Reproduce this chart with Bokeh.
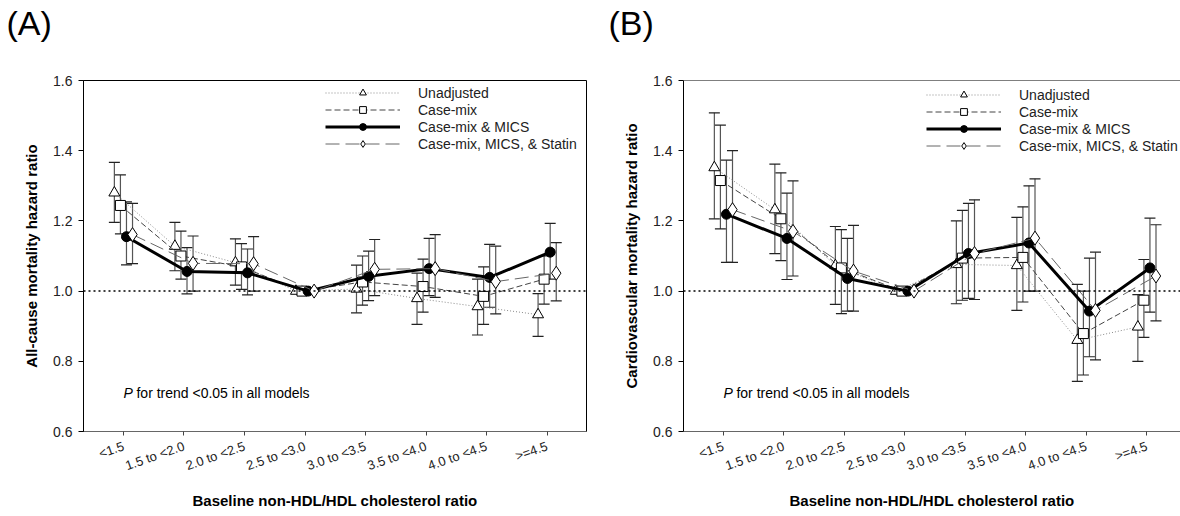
from bokeh.plotting import figure
from bokeh.models import (ColumnDataSource, Whisker, TeeHead, Span, Label, Legend,
                          LegendItem, Range1d, FixedTicker, Title)
from bokeh.layouts import row
from bokeh.embed import file_html
from bokeh.resources import INLINE

categories = ["<1.5", "1.5 to <2.0", "2.0 to <2.5", "2.5 to <3.0",
              "3.0 to <3.5", "3.5 to <4.0", "4.0 to <4.5", ">=4.5"]
series_names = ["Unadjusted", "Case-mix", "Case-mix & MICS", "Case-mix, MICS, & Statin"]
y_ticks = [0.6, 0.8, 1.0, 1.2, 1.4, 1.6]

# Panel A: all-cause mortality
a_unadj_hr = [1.280, 1.128, 1.081, 1.0, 1.006, 0.979, 0.956, 0.933]
a_unadj_lo = [1.196, 1.058, 1.017, 1.0, 0.938, 0.905, 0.875, 0.871]
a_unadj_hi = [1.367, 1.196, 1.149, 1.0, 1.074, 1.051, 1.034, 0.993]
a_cm_hr = [1.244, 1.100, 1.069, 1.0, 1.026, 1.013, 0.985, 1.034]
a_cm_lo = [1.163, 1.034, 1.005, 1.0, 0.960, 0.940, 0.905, 0.963]
a_cm_hi = [1.331, 1.171, 1.135, 1.0, 1.100, 1.091, 1.069, 1.100]
a_mics_hr = [1.155, 1.056, 1.052, 1.0, 1.042, 1.064, 1.039, 1.111]
a_mics_lo = [1.075, 0.992, 0.989, 1.0, 0.973, 0.987, 0.954, 1.034]
a_mics_hi = [1.254, 1.124, 1.120, 1.0, 1.114, 1.150, 1.133, 1.193]
a_statin_hr = [1.161, 1.079, 1.078, 1.0, 1.062, 1.064, 1.027, 1.051]
a_statin_lo = [1.078, 1.000, 1.000, 1.0, 0.987, 0.982, 0.935, 0.972]
a_statin_hi = [1.250, 1.157, 1.155, 1.0, 1.147, 1.161, 1.128, 1.138]

# Panel B: cardiovascular mortality
b_unadj_hr = [1.352, 1.232, 1.073, 1.0, 1.076, 1.073, 0.860, 0.898]
b_unadj_lo = [1.206, 1.107, 0.962, 1.0, 0.964, 0.945, 0.743, 0.800]
b_unadj_hi = [1.508, 1.362, 1.184, 1.0, 1.200, 1.210, 1.019, 0.990]
b_cm_hr = [1.315, 1.206, 1.066, 1.0, 1.094, 1.096, 0.879, 0.974]
b_cm_lo = [1.177, 1.087, 0.936, 1.0, 0.974, 0.969, 0.761, 0.868]
b_cm_hi = [1.473, 1.337, 1.175, 1.0, 1.230, 1.240, 1.000, 1.090]
b_mics_hr = [1.219, 1.150, 1.036, 1.0, 1.107, 1.137, 0.943, 1.066]
b_mics_lo = [1.082, 1.033, 0.943, 1.0, 0.979, 1.000, 0.813, 0.940]
b_mics_hi = [1.373, 1.279, 1.150, 1.0, 1.250, 1.300, 1.094, 1.208]
b_statin_hr = [1.232, 1.170, 1.057, 1.0, 1.107, 1.151, 0.945, 1.043]
b_statin_lo = [1.082, 1.043, 0.943, 1.0, 0.976, 1.000, 0.804, 0.915]
b_statin_hi = [1.400, 1.314, 1.187, 1.0, 1.260, 1.320, 1.111, 1.189]

FONT = "Liberation Sans"
offsets = [-0.15, -0.05, 0.05, 0.15]
styles = [
    dict(line_color="#8a8a8a", line_width=1, line_dash="1 2", marker="triangle", size=11, fill="white"),
    dict(line_color="#444444", line_width=1, line_dash="6 3", marker="square", size=10, fill="white"),
    dict(line_color="black", line_width=3, line_dash="solid", marker="circle", size=10, fill="black"),
    dict(line_color="#666666", line_width=1, line_dash="14 6", marker="diamond", size=14, fill="white"),
]


def make_panel(letter, ylabel, data, width, x_end, bl, br, bt, bb, outline, legend_loc, t_off):
    p = figure(width=width, height=516, output_backend="svg", toolbar_location=None,
               x_range=Range1d(-0.66, x_end), y_range=Range1d(0.6, 1.6),
               min_border_left=bl, min_border_right=br, min_border_top=bt, min_border_bottom=bb)
    p.title = Title(text=f"({letter})\n ", align="left", offset=t_off, standoff=2,
                    vertical_align="top", text_line_height=0.96,
                    text_font=FONT, text_font_size="34px", text_font_style="normal",
                    text_color="black")
    p.background_fill_color = "white"
    p.border_fill_color = "white"
    p.xgrid.visible = False
    p.ygrid.visible = False
    p.outline_line_color = "black" if outline else None
    p.outline_line_width = 1

    p.xaxis.ticker = FixedTicker(ticks=list(range(len(categories))))
    p.xaxis.major_label_overrides = {i: c for i, c in enumerate(categories)}
    p.xaxis.major_label_orientation = 0.34
    p.xaxis.major_tick_in = 0
    p.xaxis.major_tick_out = 4
    p.xaxis.minor_tick_line_color = None
    p.xaxis.axis_line_color = "#666666"
    p.xaxis.major_tick_line_color = "#444444"
    p.xaxis.major_label_standoff = 10
    p.xaxis.axis_label = "Baseline non-HDL/HDL cholesterol ratio"
    p.xaxis.axis_label_standoff = 9
    p.xaxis.major_label_text_font_size = "13px"

    p.yaxis.ticker = FixedTicker(ticks=y_ticks)
    p.yaxis.major_label_overrides = {t: f"{t:.1f}" for t in y_ticks}
    p.yaxis.major_tick_in = 0
    p.yaxis.major_tick_out = 5
    p.yaxis.minor_tick_line_color = None
    p.yaxis.axis_line_color = "black"
    p.yaxis.major_label_standoff = 6
    p.yaxis.axis_label = ylabel
    p.yaxis.axis_label_standoff = 10
    p.yaxis.major_label_text_font_size = "14px"

    for ax in (p.xaxis, p.yaxis):
        ax.major_label_text_font = FONT
        ax.major_label_text_color = "#222222"
        ax.axis_label_text_font = FONT
        ax.axis_label_text_font_size = "15px"
        ax.axis_label_text_font_style = "bold"
        ax.axis_label_text_color = "black"

    if not outline:
        p.add_layout(Span(location=1.6, dimension="width", line_color="black", line_width=1))

    p.add_layout(Span(location=1.0, dimension="width", line_color="black",
                      line_width=1.5, line_dash="2 3"))

    n = len(categories)
    # error bars
    for (hr, lo, hi), off in zip(data, offsets):
        keep = [i for i in range(n) if hi[i] != lo[i]]
        src = ColumnDataSource(dict(x=[i + off for i in keep], lo=[lo[i] for i in keep],
                                    hi=[hi[i] for i in keep]))
        w = Whisker(source=src, base="x", lower="lo", upper="hi", dimension="height",
                    line_color="#555555", line_width=1.2,
                    upper_head=TeeHead(size=11, line_color="#222222", line_width=1.2),
                    lower_head=TeeHead(size=11, line_color="#222222", line_width=1.2))
        p.add_layout(w)

    items = []
    for (hr, lo, hi), off, st, name in zip(data, offsets, styles, series_names):
        src = ColumnDataSource(dict(x=[i + off for i in range(n)], y=hr))
        lr = p.line("x", "y", source=src, line_color=st["line_color"], line_width=st["line_width"],
                    line_dash=st["line_dash"])
        sr = p.scatter("x", "y", source=src, marker=st["marker"], size=st["size"],
                       fill_color=st["fill"], line_color="black", line_width=1)
        items.append(LegendItem(label=name, renderers=[lr, sr]))

    leg = Legend(items=items, location=legend_loc, glyph_width=75, glyph_height=17,
                 label_height=17, spacing=0, padding=0, margin=0, label_standoff=18,
                 border_line_color=None, background_fill_alpha=0,
                 label_text_font=FONT, label_text_font_size="14px", label_text_color="#222222")
    p.add_layout(leg, "center")

    # trend note
    p.add_layout(Label(x=0, y=0.711, text="P", text_baseline="middle", text_align="left",
                       text_font=FONT, text_font_size="14px", text_font_style="italic",
                       text_color="black"))
    p.add_layout(Label(x=0, y=0.711, x_offset=13, text="for trend <0.05 in all models",
                       text_baseline="middle", text_align="left", text_font=FONT,
                       text_font_size="14px", text_color="black"))
    return p


data_a = [(a_unadj_hr, a_unadj_lo, a_unadj_hi), (a_cm_hr, a_cm_lo, a_cm_hi),
          (a_mics_hr, a_mics_lo, a_mics_hi), (a_statin_hr, a_statin_lo, a_statin_hi)]
data_b = [(b_unadj_hr, b_unadj_lo, b_unadj_hi), (b_cm_hr, b_cm_lo, b_cm_hi),
          (b_mics_hr, b_mics_lo, b_mics_hi), (b_statin_hr, b_statin_lo, b_statin_hi)]

pa = make_panel("A", "All-cause mortality hazard ratio", data_a, 608, 7.65, 83, 22, 80, 83,
                True, (242, 279), -77)
pb = make_panel("B", "Cardiovascular mortality hazard ratio", data_b, 572, 7.555, 75, 0, 78, 85,
                False, (243, 277), -75)

layout = row(pa, pb)
open("out.html", "w").write(file_html(layout, INLINE))
